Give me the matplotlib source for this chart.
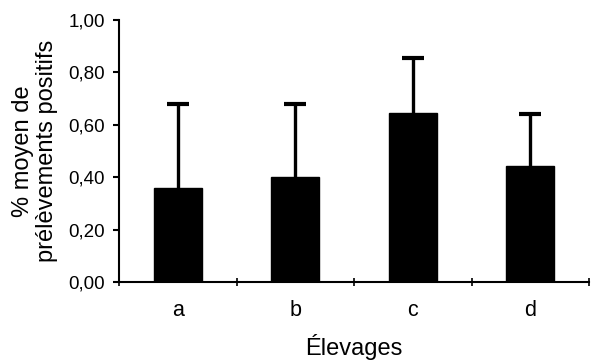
import matplotlib
matplotlib.use("Agg")
import matplotlib.pyplot as plt
import numpy as np

categories = ["a", "b", "c", "d"]
means = [0.36, 0.40, 0.645, 0.442]
upper_err = [0.32, 0.28, 0.21, 0.198]
yticks = [0.0, 0.2, 0.4, 0.6, 0.8, 1.0]
ytick_labels = ["0,00", "0,20", "0,40", "0,60", "0,80", "1,00"]

plt.rcParams['font.family'] = ['Liberation Sans', 'DejaVu Sans']

fig = plt.figure(figsize=(5.92, 3.62), dpi=100)
ax = fig.add_axes([119/592, 1 - 282/362, (589-119)/592, (282-20)/362])

x = np.arange(len(categories))
tops = np.array(means) + np.array(upper_err)
cap = 0.095
ax.bar(x, means, width=0.41, color='black', edgecolor='black', zorder=2)
ax.vlines(x, means, tops, colors='black', linewidth=2.4, zorder=1)
ax.hlines(tops, x - cap, x + cap, colors='black', linewidth=3.0, zorder=1)

ax.set_xlim(-0.5, len(categories) - 0.5)
ax.set_ylim(0, 1.0)
ax.set_yticks(yticks)
ax.set_yticklabels(ytick_labels, fontsize=13.5)
ax.set_xticks(x)
ax.set_xticklabels(categories, fontsize=15.5)
ax.set_xticks(np.arange(len(categories) + 1) - 0.5, minor=True)
ax.tick_params(axis='x', which='major', length=0, pad=13)
ax.tick_params(axis='x', which='minor', length=6, width=1.2, direction='inout')
ax.tick_params(axis='y', which='major', length=4.5, width=1.5, direction='out', pad=5.5)

for s in ['top', 'right']:
    ax.spines[s].set_visible(False)
ax.spines['left'].set_linewidth(1.5)
ax.spines['bottom'].set_linewidth(1.5)

ax.set_ylabel("% moyen de\nprélèvements positifs", fontsize=17, linespacing=1.1)
ax.yaxis.set_label_coords(-0.13, 0.5)
ax.set_xlabel("Élevages", fontsize=17)
ax.xaxis.set_label_coords(0.5, -0.2)

fig.savefig("out.png", dpi=100)
